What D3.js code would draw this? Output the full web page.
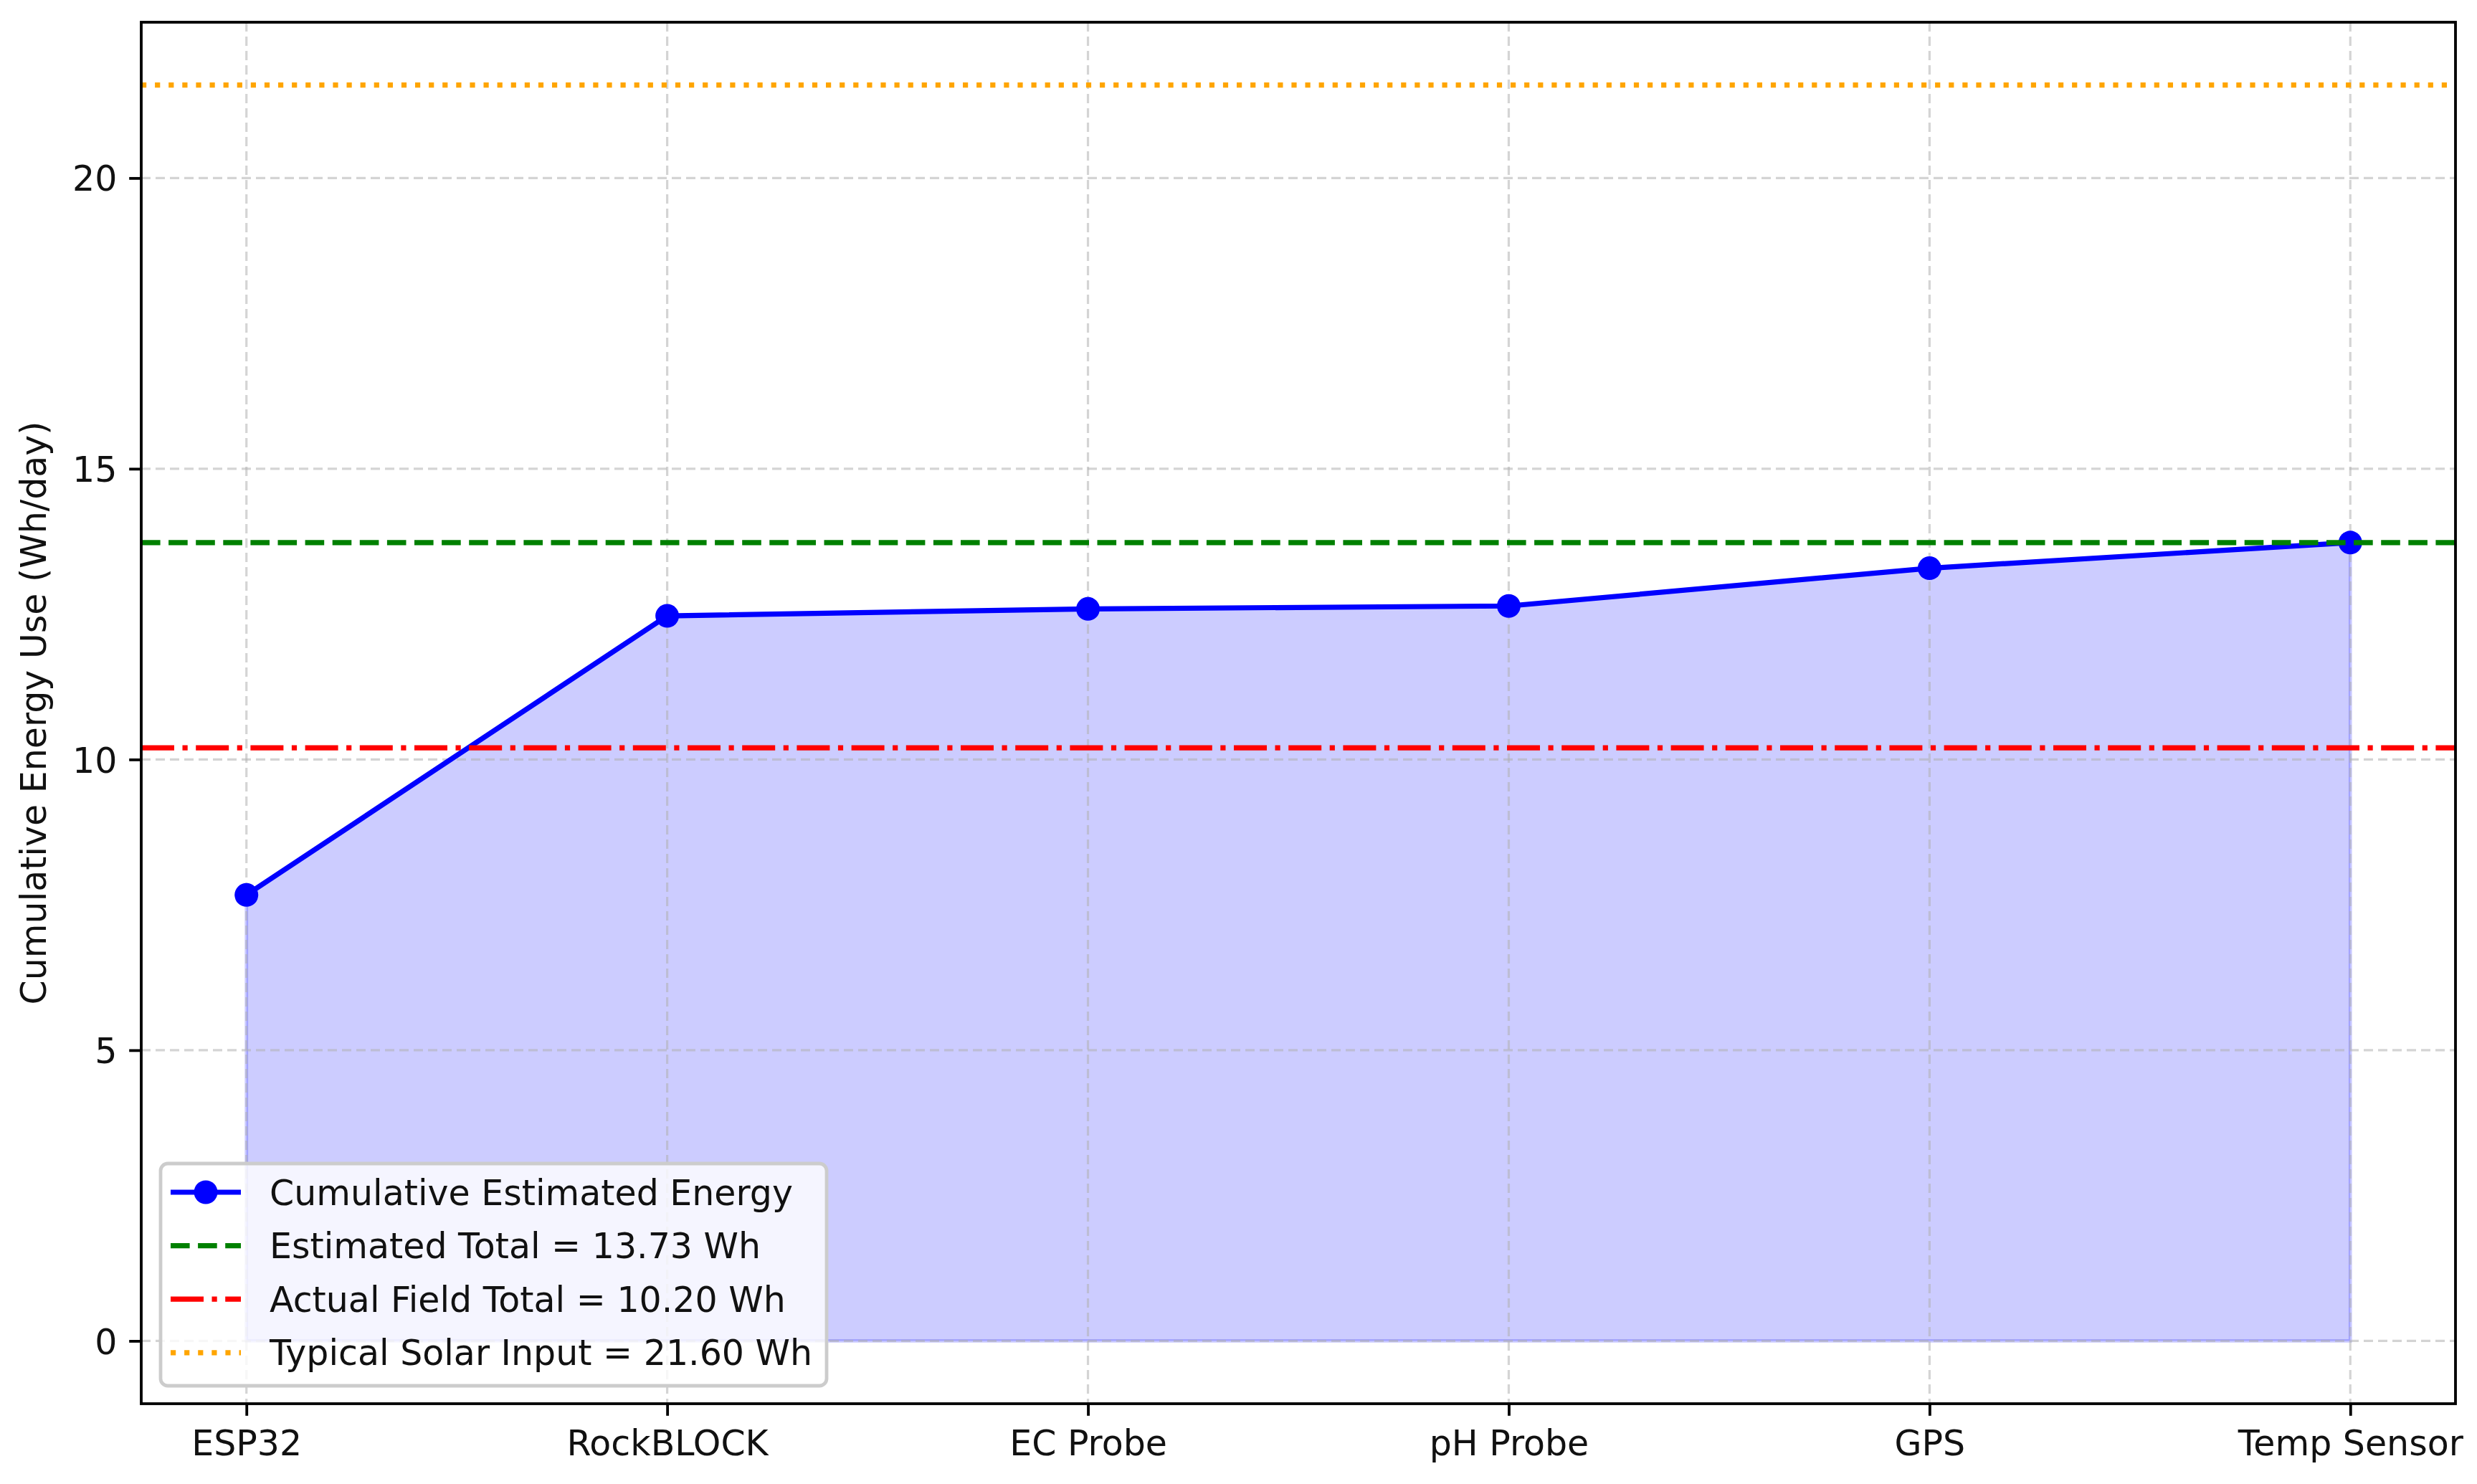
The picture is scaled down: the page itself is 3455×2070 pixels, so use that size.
<!DOCTYPE html>
<html lang="en">

<head>
    <meta charset="UTF-8">
    <title>Cumulative Energy Use</title>
    <style>
        body {
            margin: 0;
            padding: 0;
            background-color: white;
        }

        svg {
            display: block;
            font-family: "DejaVu Sans", sans-serif;
        }
    </style>
</head>

<body>
    <div id="chart"></div>

    <script src="https://cdn.jsdelivr.net/npm/d3@7"></script>
    <script>

        // data
        const components = ["ESP32", "RockBLOCK", "EC Probe", "pH Probe", "GPS", "Temp Sensor"];
        const cumulative = [7.67, 12.47, 12.59, 12.64, 13.29, 13.73];
        const yTicks = [0, 5, 10, 15, 20];

        const estimatedTotal = 13.73;
        const actualTotal = 10.20;
        const solarInput = 21.60;

        const refLines = [
            { value: estimatedTotal, color: "green", dash: "26.6 11.5", label: "Estimated Total = 13.73 Wh" },
            { value: actualTotal, color: "red", dash: "46 11.5 7.2 11.5", label: "Actual Field Total = 10.20 Wh" },
            { value: solarInput, color: "orange", dash: "7.2 11.9", label: "Typical Solar Input = 21.60 Wh" }
        ];

        // svg size
        const w = 3455;
        const h = 2070;
        const plotLeft = 197, plotRight = 3425, plotTop = 31, plotBottom = 1958;
        const fs = 49;

        const svg = d3.select("#chart")
            .append("svg")
            .attr("width", w)
            .attr("height", h);

        const x = d3.scaleLinear()
            .domain([-0.25, components.length - 1 + 0.25])
            .range([plotLeft, plotRight]);

        const y = d3.scaleLinear()
            .domain([-1.08, 22.68])
            .range([plotBottom, plotTop]);

        // fill under the line
        const area = d3.area()
            .x((d, i) => x(i))
            .y0(y(0))
            .y1(d => y(d));

        svg.append("path")
            .datum(cumulative)
            .attr("d", area)
            .attr("fill", "blue")
            .attr("fill-opacity", 0.2)
            .attr("stroke", "blue")
            .attr("stroke-opacity", 0.2)
            .attr("stroke-width", 4.8);

        // grid
        const grid = svg.append("g")
            .attr("stroke", "#b0b0b0")
            .attr("stroke-opacity", 0.55)
            .attr("stroke-width", 3.2)
            .attr("stroke-dasharray", "13 7");

        grid.selectAll(".gx")
            .data(components)
            .enter()
            .append("line")
            .attr("x1", (d, i) => x(i))
            .attr("x2", (d, i) => x(i))
            .attr("y1", plotTop)
            .attr("y2", plotBottom);

        grid.selectAll(".gy")
            .data(yTicks)
            .enter()
            .append("line")
            .attr("x1", plotLeft)
            .attr("x2", plotRight)
            .attr("y1", d => y(d))
            .attr("y2", d => y(d));

        // cumulative line + markers
        const line = d3.line()
            .x((d, i) => x(i))
            .y(d => y(d));

        svg.append("path")
            .datum(cumulative)
            .attr("d", line)
            .attr("fill", "none")
            .attr("stroke", "blue")
            .attr("stroke-width", 7.2)
            .attr("stroke-linejoin", "round");

        svg.selectAll(".dot")
            .data(cumulative)
            .enter()
            .append("circle")
            .attr("cx", (d, i) => x(i))
            .attr("cy", d => y(d))
            .attr("r", 16.5)
            .attr("fill", "blue");

        // reference lines
        svg.selectAll(".ref")
            .data(refLines)
            .enter()
            .append("line")
            .attr("x1", plotLeft)
            .attr("x2", plotRight)
            .attr("y1", d => y(d.value))
            .attr("y2", d => y(d.value))
            .attr("stroke", d => d.color)
            .attr("stroke-width", 7.2)
            .attr("stroke-dasharray", d => d.dash);

        // axes frame
        svg.append("rect")
            .attr("x", plotLeft)
            .attr("y", plotTop)
            .attr("width", plotRight - plotLeft)
            .attr("height", plotBottom - plotTop)
            .attr("fill", "none")
            .attr("stroke", "black")
            .attr("stroke-width", 3.84);

        const xAxis = svg.append("g")
            .attr("transform", `translate(0, ${plotBottom})`)
            .call(d3.axisBottom(x)
                .tickValues(d3.range(components.length))
                .tickFormat(i => components[i])
                .tickSize(16.8)
                .tickPadding(0));

        xAxis.select(".domain").remove();
        xAxis.selectAll(".tick line").attr("stroke", "black").attr("stroke-width", 3.84);
        xAxis.selectAll(".tick text")
            .attr("y", 72)
            .attr("dy", null)
            .attr("font-size", fs)
            .attr("font-family", "DejaVu Sans")
            .attr("fill", "#111");

        const yAxis = svg.append("g")
            .attr("transform", `translate(${plotLeft}, 0)`)
            .call(d3.axisLeft(y)
                .tickValues(yTicks)
                .tickSize(16.8)
                .tickPadding(16.8));

        yAxis.select(".domain").remove();
        yAxis.selectAll(".tick line").attr("stroke", "black").attr("stroke-width", 3.84);
        yAxis.selectAll(".tick text")
            .attr("dy", "0.36em")
            .attr("font-size", fs)
            .attr("font-family", "DejaVu Sans")
            .attr("fill", "#111");

        svg.append("text")
            .attr("transform", `translate(64, ${(plotTop + plotBottom) / 2}) rotate(-90)`)
            .attr("text-anchor", "middle")
            .attr("font-size", fs)
            .attr("fill", "#111")
            .text("Cumulative Energy Use (Wh/day)");

        // legend
        const legend = svg.append("g");

        legend.append("rect")
            .attr("x", 224)
            .attr("y", 1623)
            .attr("width", 929)
            .attr("height", 310)
            .attr("rx", 10)
            .attr("fill", "white")
            .attr("fill-opacity", 0.8)
            .attr("stroke", "#cccccc")
            .attr("stroke-width", 4.8);

        const items = [{ color: "blue", dash: null, label: "Cumulative Estimated Energy", marker: true }]
            .concat(refLines.map(d => ({ color: d.color, dash: d.dash, label: d.label, marker: false })));

        const rows = legend.selectAll(".item")
            .data(items)
            .enter()
            .append("g")
            .attr("transform", (d, i) => `translate(0, ${1663 + i * 74.6})`);

        rows.append("line")
            .attr("x1", 238)
            .attr("x2", 336)
            .attr("stroke", d => d.color)
            .attr("stroke-width", 7.2)
            .attr("stroke-dasharray", d => d.dash);

        rows.filter(d => d.marker)
            .append("circle")
            .attr("cx", 287)
            .attr("r", 16.5)
            .attr("fill", "blue");

        rows.append("text")
            .attr("x", 376)
            .attr("dy", "0.36em")
            .attr("font-size", fs)
            .attr("fill", "#111")
            .text(d => d.label);

    </script>
</body>

</html>
